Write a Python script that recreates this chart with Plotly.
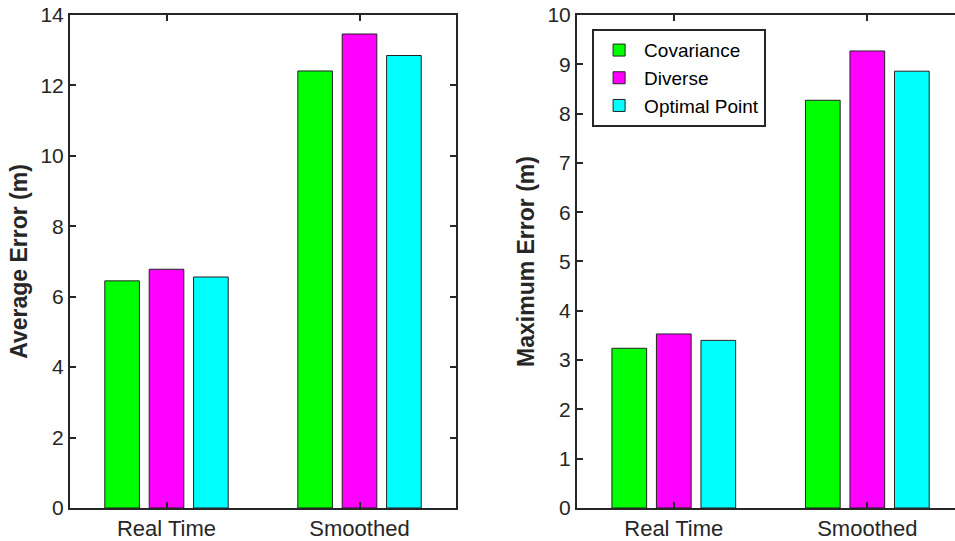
import plotly.graph_objects as go
from plotly.subplots import make_subplots

categories = ["Real Time", "Smoothed"]
series_names = ["Covariance", "Diverse", "Optimal Point"]
series_colors = ["#00ff00", "#ff00ff", "#00ffff"]
avg_error = {
    "Covariance": [6.45, 12.41],
    "Diverse": [6.78, 13.46],
    "Optimal Point": [6.56, 12.85],
}
max_error = {
    "Covariance": [3.24, 8.27],
    "Diverse": [3.53, 9.27],
    "Optimal Point": [3.40, 8.86],
}
avg_ticks = [0, 2, 4, 6, 8, 10, 12, 14]
max_ticks = [0, 1, 2, 3, 4, 5, 6, 7, 8, 9, 10]

fig = make_subplots(rows=1, cols=2)

for name, col in zip(series_names, series_colors):
    fig.add_trace(go.Bar(x=categories, y=avg_error[name], name=name,
                         marker=dict(color=col, line=dict(color="#222222", width=1)),
                         showlegend=False), row=1, col=1)
    fig.add_trace(go.Bar(x=categories, y=max_error[name], name=name,
                         marker=dict(color=col, line=dict(color="#222222", width=1)),
                         showlegend=True), row=1, col=2)

axis_color = "#262626"
font_family = "Liberation Sans, Arial, sans-serif"

common_x = dict(type="category", showline=True, linecolor=axis_color, linewidth=2,
                ticks="inside", ticklen=6, tickwidth=2, tickcolor=axis_color,
                showgrid=False, zeroline=False, automargin=False,
                tickfont=dict(size=22, color="#262626", family=font_family))
common_y = dict(showline=True, linecolor=axis_color, linewidth=2,
                ticks="inside", ticklen=6, tickwidth=2, tickcolor=axis_color,
                showgrid=False, zeroline=False, automargin=False,
                tickfont=dict(size=21, color="#262626", family=font_family))

fig.update_xaxes(**common_x, mirror="ticks", domain=[0.0733, 0.4775], range=[-0.5, 1.5], row=1, col=1)
fig.update_xaxes(**common_x, mirror="ticks", domain=[0.6042, 1.0], range=[-0.5, 1.453], row=1, col=2)
fig.update_yaxes(**common_y, mirror="ticks", domain=[0.061, 0.9723], range=[0, 14],
                 tickvals=avg_ticks,
                 title=dict(text="<b>Average Error (m)</b>", standoff=6,
                            font=dict(size=23, color="#262626", family=font_family)),
                 row=1, col=1)
fig.update_yaxes(**common_y, mirror=False, domain=[0.061, 0.9723], range=[0, 10],
                 tickvals=max_ticks,
                 title=dict(text="<b>Maximum Error (m)</b>", standoff=6,
                            font=dict(size=23, color="#262626", family=font_family)),
                 row=1, col=2)

fig.update_layout(
    width=955, height=541,
    margin=dict(l=0, r=0, t=0, b=0, autoexpand=False),
    paper_bgcolor="white", plot_bgcolor="white",
    barmode="group", bargap=0.31, bargroupgap=0.22,
    font=dict(family=font_family, color="#262626"),
    legend=dict(x=0.62, y=0.946, xanchor="left", yanchor="top",
                bgcolor="white", bordercolor=axis_color, borderwidth=2,
                font=dict(size=19, color="#000000", family=font_family),
                tracegroupgap=0, itemwidth=40),
)

fig.write_html("out.html")
